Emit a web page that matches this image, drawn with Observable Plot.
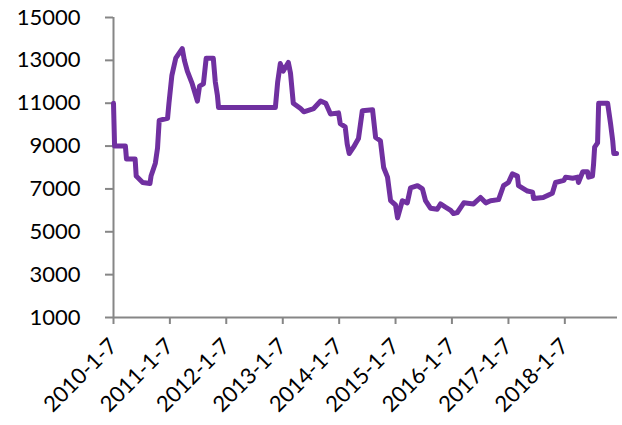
<!DOCTYPE html>
<html>
<head>
<meta charset="utf-8">
<script src="https://cdn.jsdelivr.net/npm/d3@7"></script>
<script src="https://cdn.jsdelivr.net/npm/@observablehq/plot@0.6"></script>
<style>
  html, body { margin: 0; padding: 0; background: #fff; }
  #chart { width: 622px; height: 425px; }
</style>
</head>
<body>
<div id="chart"></div>
<script>
const dates = [
  "2010-01-07","2010-01-14","2010-03-25","2010-04-01","2010-05-27","2010-06-03","2010-07-15","2010-08-31",
  "2010-09-07","2010-10-05","2010-10-19","2010-10-30","2010-12-23","2011-01-01","2011-01-20","2011-02-14",
  "2011-03-28","2011-04-11","2011-04-30","2011-06-01","2011-07-04","2011-07-18","2011-08-12","2011-08-30",
  "2011-10-15","2011-10-28","2011-11-11","2011-11-18","2012-11-20","2012-12-05","2012-12-22","2013-01-10",
  "2013-02-12","2013-02-26","2013-03-16","2013-05-02","2013-05-23","2013-07-26","2013-09-09","2013-10-12",
  "2013-11-12","2014-01-03","2014-01-14","2014-02-15","2014-02-28","2014-03-13","2014-04-10","2014-05-12",
  "2014-06-06","2014-08-11","2014-08-31","2014-10-01","2014-10-22","2014-11-16","2014-12-06","2015-01-07",
  "2015-01-20","2015-02-20","2015-03-24","2015-04-14","2015-05-29","2015-06-30","2015-07-20","2015-08-21",
  "2015-10-04","2015-10-25","2015-11-26","2015-12-30","2016-01-17","2016-02-11","2016-03-24","2016-05-26",
  "2016-07-10","2016-08-13","2016-09-13","2016-11-04","2016-12-06","2017-01-07","2017-02-01","2017-03-06",
  "2017-03-13","2017-05-10","2017-06-12","2017-06-19","2017-08-20","2017-10-18","2017-11-08","2018-01-01",
  "2018-01-12","2018-02-27","2018-03-31","2018-04-05","2018-05-03","2018-06-03","2018-06-10","2018-07-05",
  "2018-07-12","2018-07-19","2018-08-07","2018-08-14","2018-10-11","2018-10-30","2018-11-13","2018-11-20",
  "2018-12-08"
];
const values = [
  11000,9000,9000,8400,8400,7600,7300,7250,
  7600,8200,8900,10200,10300,11000,12300,13100,
  13550,13000,12500,11900,11100,11800,11900,13100,
  13100,12000,11350,10800,10800,12000,12850,12500,
  12900,12400,11000,10750,10600,10750,11100,11000,
  10500,10550,10050,9900,9100,8650,8950,9350,
  10650,10700,9400,9250,8000,7550,6450,6250,
  5650,6450,6350,7050,7150,7000,6450,6100,
  6050,6300,6150,6000,5850,5900,6350,6300,
  6600,6350,6450,6500,7150,7300,7700,7600,
  7150,6900,6850,6550,6600,6800,7300,7400,
  7550,7500,7550,7300,7800,7800,7550,7600,
  8150,8950,9150,11000,11000,10050,9250,8650,
  8650
];
const xTickDates = ["2010-01-07","2011-01-07","2012-01-07","2013-01-07","2014-01-07","2015-01-07","2016-01-07","2017-01-07","2018-01-07"];
const xTickLabels = ["2010-1-7","2011-1-7","2012-1-7","2013-1-7","2014-1-7","2015-1-7","2016-1-7","2017-1-7","2018-1-7"];
const yTicks = [1000,3000,5000,7000,9000,11000,13000,15000];

const data = dates.map((d, i) => ({date: new Date(d), value: values[i]}));
const xTicks = xTickDates.map(d => new Date(d));
const labelOf = d => xTickLabels[xTicks.findIndex(t => +t === +d)];
const start = new Date("2010-01-07");
const end = new Date("2018-12-14");
const axisColor = "#868686";

const chart = Plot.plot({
  width: 622,
  height: 425,
  marginLeft: 113,
  marginRight: 5,
  marginTop: 17,
  marginBottom: 108,
  style: {fontFamily: "Lato", fontSize: "22px", color: "#000", background: "#fff"},
  x: {type: "utc", domain: [start, end]},
  y: {domain: [1000, 15000]},
  marks: [
    Plot.axisY({ticks: yTicks, tickSize: 8, tickPadding: 25, stroke: axisColor, strokeWidth: 2, fill: "#000", label: null, tickFormat: d => String(d)}),
    Plot.axisX({ticks: xTicks, tickSize: 7, tickPadding: 18, tickRotate: -45, stroke: axisColor, strokeWidth: 2, fill: "#000", label: null, tickFormat: labelOf}),
    Plot.ruleX([start], {stroke: axisColor, strokeWidth: 2}),
    Plot.ruleY([1000], {stroke: axisColor, strokeWidth: 2}),
    Plot.line(data, {x: "date", y: "value", stroke: "#7030A0", strokeWidth: 5, strokeLinejoin: "round", strokeLinecap: "round"})
  ]
});
document.getElementById("chart").appendChild(chart);
</script>
</body>
</html>
